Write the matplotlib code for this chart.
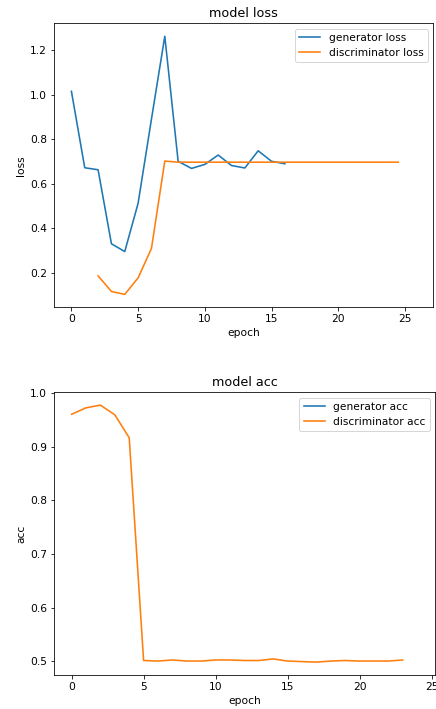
import numpy as np
import matplotlib
matplotlib.use("Agg")
import matplotlib.pyplot as plt

# valores
gen_loss_epoch = list(range(0, 17))
gen_loss = [1.015, 0.672, 0.663, 0.331, 0.296, 0.513, 0.89, 1.262, 0.701,
            0.669, 0.687, 0.729, 0.682, 0.671, 0.748, 0.701, 0.690]

disc_loss_epoch = list(range(2, 25)) + [24.5]
disc_loss = [0.187, 0.117, 0.104, 0.178, 0.310, 0.702, 0.697, 0.697, 0.697,
             0.697, 0.697, 0.697, 0.697, 0.697, 0.697, 0.697, 0.697, 0.697,
             0.697, 0.697, 0.697, 0.697, 0.697, 0.697]

gen_acc_epoch = []
gen_acc = []

disc_acc_epoch = list(range(0, 24))
disc_acc = [0.961, 0.973, 0.978, 0.960, 0.917, 0.501, 0.500, 0.502, 0.500,
            0.500, 0.502, 0.502, 0.501, 0.501, 0.504, 0.500, 0.499, 0.498,
            0.500, 0.501, 0.500, 0.500, 0.500, 0.502]

plt.rcParams["font.size"] = 10.6
plt.rcParams["lines.linewidth"] = 1.6

fig = plt.figure(figsize=(436 / 72, 709 / 72), dpi=72)

ax1 = fig.add_axes([0.124, 0.5666, 0.869, 0.4005])
ax1.plot(gen_loss_epoch, gen_loss, label="generator loss")
ax1.plot(disc_loss_epoch, disc_loss, label="discriminator loss")
ax1.set_xlim(-1.3, 27.1)
ax1.set_title("model loss")
ax1.set_xlabel("epoch")
ax1.set_ylabel("loss")
ax1.legend(loc="upper right")

ax2 = fig.add_axes([0.124, 0.048, 0.874, 0.3987])
ax2.plot(gen_acc_epoch, gen_acc, label="generator acc")
ax2.plot(disc_acc_epoch, disc_acc, label="discriminator acc")
ax2.set_xlim(-1.22, 25.25)
ax2.set_title("model acc")
ax2.set_xlabel("epoch")
ax2.set_ylabel("acc")
ax2.legend(loc="upper right")

fig.savefig("out.png", dpi=72)
